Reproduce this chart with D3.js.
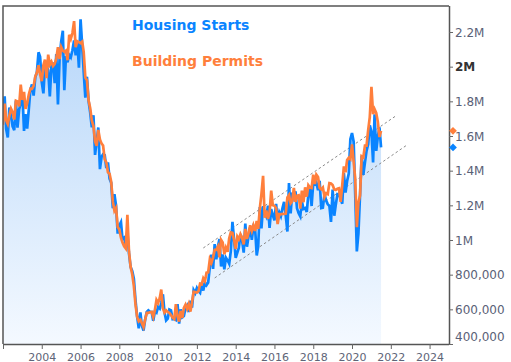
<!DOCTYPE html>
<html>
<head>
<meta charset="utf-8">
<script src="https://cdn.jsdelivr.net/npm/d3@7"></script>
<style>
  html, body { margin: 0; padding: 0; background: #fff; }
  svg { display: block; font-family: "DejaVu Sans", Verdana, sans-serif; }
</style>
</head>
<body>
<div id="app"></div>
<script>
// monthly, SAAR, thousands of units, Jan 2002 .. Jul 2021
const startMonth = "2002-01";

const housingStarts = [
  1698, 1829, 1642, 1592, 1764, 1717, 1655, 1633, 1804, 1648, 1753, 1788,
  1853, 1629, 1726, 1643, 1751, 1867, 1897, 1833, 1939, 1967, 2083, 2057,
  1911, 1846, 1998, 2003, 1981, 1828, 2002, 2024, 1905, 2072, 1782, 2042,
  2144, 2207, 1864, 2061, 2025, 2068, 2054, 2095, 2151, 2065, 2147, 1994,
  2273, 2119, 1969, 1821, 1942, 1802, 1737, 1650, 1720, 1491, 1570, 1649,
  1409, 1480, 1495, 1490, 1415, 1448, 1354, 1330, 1183, 1264, 1197, 1037,
  1084, 1103, 1005, 1013, 973, 1046, 923, 844, 820, 777, 652, 560,
  490, 582, 505, 478, 540, 585, 594, 586, 585, 534, 588, 581,
  614, 604, 636, 687, 583, 536, 546, 599, 594, 543, 545, 539,
  630, 517, 600, 554, 561, 608, 623, 585, 650, 610, 711, 694,
  723, 704, 695, 753, 708, 757, 740, 754, 847, 915, 833, 976,
  888, 962, 1005, 847, 917, 831, 898, 883, 863, 936, 1105, 1003,
  897, 928, 954, 1034, 1000, 927, 1095, 961, 1023, 1074, 1001, 1080,
  1071, 911, 964, 1190, 1067, 1195, 1151, 1134, 1198, 1070, 1179, 1144,
  1114, 1208, 1113, 1160, 1138, 1184, 1220, 1140, 1049, 1328, 1154, 1273,
  1244, 1280, 1183, 1154, 1136, 1223, 1179, 1184, 1162, 1264, 1305, 1196,
  1329, 1321, 1332, 1287, 1342, 1184, 1186, 1267, 1228, 1207, 1197, 1104,
  1291, 1140, 1203, 1265, 1263, 1240, 1209, 1386, 1274, 1340, 1383, 1581,
  1617, 1567, 1269, 934, 1038, 1265, 1487, 1376, 1448, 1514, 1553, 1661,
  1625, 1447, 1725, 1514, 1594, 1650, 1534
];

const buildingPermits = [
  1665, 1787, 1691, 1669, 1716, 1758, 1738, 1695, 1803, 1799, 1771, 1896,
  1808, 1854, 1757, 1788, 1838, 1873, 1872, 1889, 1943, 1966, 2008, 1955,
  1916, 2008, 2041, 1934, 2069, 2012, 2029, 2004, 2016, 2047, 2112, 2044,
  2113, 2092, 2086, 2093, 2037, 2184, 2160, 2194, 2263, 2112, 2147, 2142,
  2136, 2144, 2085, 1937, 1922, 1806, 1762, 1689, 1657, 1569, 1543, 1635,
  1580, 1556, 1545, 1465, 1448, 1391, 1382, 1336, 1221, 1168, 1185, 1075,
  1061, 1013, 985, 963, 951, 1146, 934, 844, 801, 734, 628, 558,
  531, 540, 520, 498, 541, 580, 580, 583, 585, 555, 596, 654,
  636, 666, 714, 606, 581, 594, 585, 579, 567, 552, 544, 630,
  561, 529, 591, 550, 608, 627, 602, 630, 587, 640, 701, 699,
  697, 705, 747, 744, 779, 763, 811, 813, 889, 868, 900, 943,
  943, 962, 900, 1001, 986, 918, 956, 932, 1010, 1044, 1041, 1000,
  948, 1020, 1005, 1034, 1014, 975, 1064, 1006, 1042, 1085, 1052, 1084,
  1052, 1110, 1064, 1184, 1265, 1370, 1128, 1170, 1122, 1158, 1285, 1201,
  1198, 1184, 1092, 1150, 1148, 1151, 1150, 1152, 1246, 1260, 1212, 1224,
  1300, 1220, 1255, 1258, 1181, 1285, 1218, 1304, 1250, 1316, 1303, 1300,
  1377, 1323, 1377, 1364, 1301, 1292, 1303, 1249, 1270, 1265, 1328, 1326,
  1317, 1291, 1288, 1296, 1299, 1220, 1317, 1425, 1391, 1461, 1474, 1466,
  1551, 1452, 1356, 1074, 1216, 1258, 1483, 1476, 1545, 1545, 1635, 1709,
  1883, 1726, 1755, 1733, 1683, 1594, 1630
];

const yTickValues = [400000, 600000, 800000, 1000000, 1200000, 1400000, 1600000, 1800000, 2000000, 2200000];
const yTickLabels = ["400,000", "600,000", "800,000", "1M", "1.2M", "1.4M", "1.6M", "1.8M", "2M", "2.2M"];
const xTickYears = [2002, 2004, 2006, 2008, 2010, 2012, 2014, 2016, 2018, 2020, 2022, 2024];

// hand-drawn trend channel (start / end points)
const channelUpper = [["2012-05", 954000], ["2022-04", 1715000]];
const channelLower = [["2012-12", 781000], ["2022-11", 1548000]];

const seriesNames = ["Housing Starts", "Building Permits"];
const seriesColors = ["#0a84ff", "#ff7f3c"];

const width = 511, height = 362;
const plotLeft = 3, plotRight = 449, plotTop = 6, plotBottom = 344;

const parseMonth = d3.timeParse("%Y-%m");
const firstMonth = parseMonth(startMonth);

const toPoints = (arr) => arr.map((v, i) => ({ date: d3.timeMonth.offset(firstMonth, i), value: v * 1000 }));
const starts = toPoints(housingStarts);
const permits = toPoints(buildingPermits);

const x = d3.scaleTime()
  .domain([new Date(2002, 0, 1), new Date(2025, 0, 1)])
  .range([plotLeft, plotRight]);

const y = d3.scaleLinear()
  .domain([400000, 2350000])
  .range([plotBottom, plotTop]);

const svg = d3.select("#app")
  .append("svg")
  .attr("width", width)
  .attr("height", height);

const defs = svg.append("defs");
const grad = defs.append("linearGradient")
  .attr("id", "fill-grad")
  .attr("gradientUnits", "userSpaceOnUse")
  .attr("x1", 0).attr("y1", plotTop)
  .attr("x2", 0).attr("y2", plotBottom);
grad.append("stop").attr("offset", "0%").attr("stop-color", "#b4d5f9");
grad.append("stop").attr("offset", "100%").attr("stop-color", "#f4f9ff");

defs.append("clipPath")
  .attr("id", "plot-clip")
  .append("rect")
  .attr("x", plotLeft).attr("y", plotTop)
  .attr("width", plotRight - plotLeft).attr("height", plotBottom - plotTop);

const plot = svg.append("g").attr("clip-path", "url(#plot-clip)");

// area under housing starts
plot.append("path")
  .datum(starts)
  .attr("fill", "url(#fill-grad)")
  .attr("d", d3.area()
    .x(d => x(d.date))
    .y0(plotBottom)
    .y1(d => y(d.value)));

// trend channel
[channelUpper, channelLower].forEach(seg => {
  plot.append("line")
    .attr("x1", x(parseMonth(seg[0][0])))
    .attr("y1", y(seg[0][1]))
    .attr("x2", x(parseMonth(seg[1][0])))
    .attr("y2", y(seg[1][1]))
    .attr("stroke", "#8a8a8a")
    .attr("stroke-width", 1)
    .attr("stroke-dasharray", "2.5,2.5");
});

const line = d3.line()
  .x(d => x(d.date))
  .y(d => y(d.value));

[starts, permits].forEach((s, i) => {
  plot.append("path")
    .datum(s)
    .attr("fill", "none")
    .attr("stroke", seriesColors[i])
    .attr("stroke-width", 2.7)
    .attr("d", line);
});

// frame
svg.append("path")
  .attr("d", `M${plotLeft},${plotBottom}V${plotTop}H${plotRight}`)
  .attr("fill", "none")
  .attr("stroke", "#555")
  .attr("stroke-width", 1.5);

// bottom axis
const xAxis = svg.append("g")
  .attr("transform", `translate(0,${plotBottom})`)
  .call(d3.axisBottom(x)
    .tickValues(xTickYears.map(yr => new Date(yr, 0, 1)))
    .tickSize(5)
    .tickFormat(d => d.getFullYear() === 2002 ? "" : d.getFullYear()));
xAxis.select(".domain")
  .attr("d", `M${plotLeft},0.5H${plotRight}`)
  .attr("stroke", "#555")
  .attr("stroke-width", 1.5);
xAxis.selectAll(".tick line").attr("stroke", "#666");
xAxis.selectAll(".tick text")
  .attr("y", 16.5)
  .attr("dy", 0)
  .attr("fill", "#5e6577")
  .attr("font-size", 11)
  .attr("font-family", "DejaVu Sans, Verdana, sans-serif");

// right axis
const yAxis = svg.append("g")
  .attr("transform", `translate(${plotRight},0)`)
  .call(d3.axisRight(y)
    .tickValues(yTickValues)
    .tickSize(4)
    .tickFormat((d, i) => yTickLabels[i]));
yAxis.select(".domain")
  .attr("d", `M0.5,${plotTop}V${plotBottom}`)
  .attr("stroke", "#555")
  .attr("stroke-width", 1.5);
yAxis.selectAll(".tick line").attr("stroke", "#666");
yAxis.selectAll(".tick text")
  .attr("x", 6)
  .attr("dy", (d) => y(d) > plotBottom - 6 ? "-0.3em" : "0.35em")
  .attr("fill", d => d === 2000000 ? "#333" : "#5a6177")
  .attr("font-weight", d => d === 2000000 ? "bold" : "normal")
  .attr("font-size", 12)
  .attr("font-family", "DejaVu Sans, Verdana, sans-serif");

// last value markers
[starts, permits].forEach((s, i) => {
  const last = s[s.length - 1];
  svg.append("path")
    .attr("d", d3.symbol(d3.symbolSquare, 30)())
    .attr("transform", `translate(${plotRight + 4},${y(last.value)}) rotate(45)`)
    .attr("fill", seriesColors[i]);
});

// legend
seriesNames.forEach((name, i) => {
  svg.append("text")
    .attr("x", 132)
    .attr("y", 30 + i * 35.5)
    .attr("fill", seriesColors[i])
    .attr("font-size", 14)
    .attr("font-weight", "bold")
    .text(name);
});
</script>
</body>
</html>
